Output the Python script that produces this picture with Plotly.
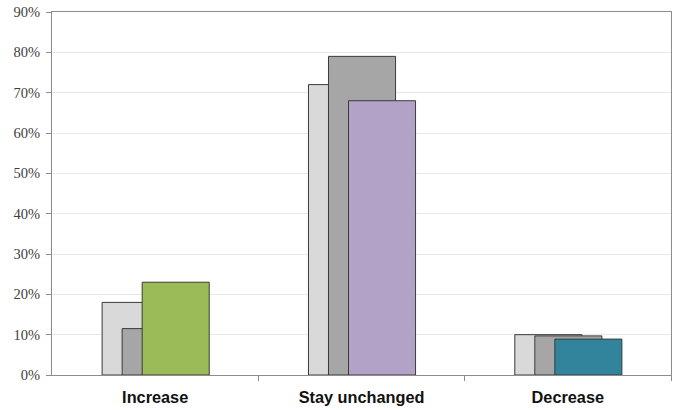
import plotly.graph_objects as go

categories = ["Increase", "Stay unchanged", "Decrease"]
series_a = [18.0, 72.0, 10.0]      # light gray, back
series_b = [11.5, 79.0, 9.7]       # mid gray, middle
series_c = [23.0, 68.0, 8.9]       # coloured, front
front_colors = ["#9BBB59", "#B3A2C7", "#31849B"]
y_ticks = [0, 10, 20, 30, 40, 50, 60, 70, 80, 90]

x = list(range(len(categories)))
bar_w = 0.325
step = 0.097
start = -0.257
line = dict(color="#3a3a3a", width=1)

fig = go.Figure()
fig.add_trace(go.Bar(x=x, y=series_a, width=bar_w, offset=start,
                     marker=dict(color="#D9D9D9", line=line), showlegend=False))
fig.add_trace(go.Bar(x=x, y=series_b, width=bar_w, offset=start + step,
                     marker=dict(color="#A6A6A6", line=line), showlegend=False))
fig.add_trace(go.Bar(x=x, y=series_c, width=bar_w, offset=start + 2 * step,
                     marker=dict(color=front_colors, line=line), showlegend=False))

fig.update_layout(
    width=680, height=410,
    margin=dict(l=52, r=9, t=12, b=35, autoexpand=False),
    barmode="overlay",
    paper_bgcolor="white", plot_bgcolor="white",
    xaxis=dict(
        range=[-0.5, 2.5], automargin=False,
        tickvals=x, ticktext=categories, ticks="",
        tickfont=dict(family="Liberation Sans", size=16.3, color="#111111", weight="bold"),
        ticklabelstandoff=7,
        showline=True, linecolor="#8c8c8c", linewidth=1, mirror=True,
        showgrid=False, zeroline=False,
        minor=dict(tickvals=[0.5, 1.5, 2.5], ticks="outside", ticklen=5,
                   tickcolor="#8c8c8c", showgrid=False),
    ),
    yaxis=dict(
        range=[0, 90], automargin=False,
        tickvals=y_ticks, ticktext=[f"{v}%" for v in y_ticks],
        ticks="outside", ticklen=5, tickcolor="#8c8c8c",
        ticklabelstandoff=3,
        tickfont=dict(family="Liberation Serif", size=14.5, color="#404040"),
        showline=True, linecolor="#8c8c8c", linewidth=1, mirror=True,
        showgrid=True, gridcolor="#E8E8E8", gridwidth=1, zeroline=False,
    ),
)

fig.write_html("out.html")
